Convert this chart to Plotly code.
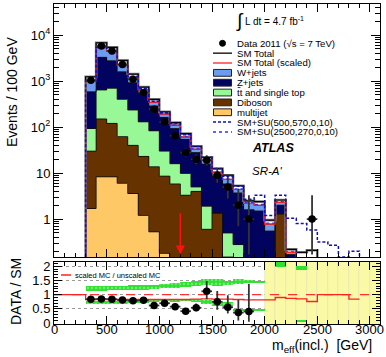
import numpy as np
import plotly.graph_objects as go

# ---------------- data ----------------
bin_lo = [300, 400, 500, 600, 700, 800, 900, 1000, 1100, 1200, 1300,
          1400, 1500, 1600, 1700, 1800, 1900, 2000, 2100, 2200, 2300, 2400]
bin_w = 100

multijet = [1.7, 8.3, 8.3, 6.0, 3.6, 1.2, 0.53, 0.18, 0, 0, 0,
            0, 0, 0, 0, 0, 0, 0, 0, 0, 0, 0]
diboson = [28.3, 141.7, 111.7, 56, 36.4, 21.8, 13.2, 8.4, 5.8, 3.3, 4.0,
           0.6, 1.35, 0.15, 0.1, 0, 0, 0, 1.3, 0, 0, 0]
ttbar = [63, 490, 575, 338, 195, 107, 69.3, 21.4, 10.2, 6.5, 1.0,
         1.3, 0, 0.35, 0.18, 0, 0, 0, 0, 0, 0, 0]
zjets = [492, 2630, 2065, 1190, 685, 410, 204, 132, 77, 44.2, 23,
         13.8, 7.15, 5.3, 3.42, 1.6, 1.5, 0.55, 0.7, 0.17, 0, 0]
wjets = [415, 2030, 1640, 610, 280, 100, 57, 30, 17, 7, 5,
         3.3, 2.0, 1.5, 0.7, 0.6, 0.5, 0.23, 0.3, 0.02, 0, 0]
sm_total = [1240, 6800, 5400, 2800, 1420, 740, 400, 215, 125, 72, 38,
            22, 12.5, 9.0, 5.3, 2.5, 2.4, 0.95, 2.6, 0.22, 0.19, 0.21]

su_lo = [300, 400, 500, 600, 700, 800, 900, 1000, 1100, 1200, 1300, 1400,
         1500, 1600, 1700, 1800, 1900, 2000, 2100, 2200, 2300, 2400, 2500,
         2600, 2700, 2800, 2900]
su_500_570 = [1030, 5450, 4550, 2280, 1250, 680, 365, 205, 120, 68, 38, 22,
              12.5, 8.5, 5.2, 2.7, 3.3, 1.2, 3.3, 1.05, 0.8, 0.58, 0.32,
              0.27, 0.15, 0.2, 0.14]
su_2500_270 = [1015, 5380, 4470, 2240, 1220, 652, 350, 196, 112, 62.5, 34, 19.5,
               10.8, 7.5, 4.55, 2.3, 2.1, 0.82, 2.4, 0.2, 0.0, 0.0, 0.0,
               0.0, 0.0, 0.0, 0.0]

data_x = [350, 450, 550, 650, 750, 850, 950, 1050, 1150, 1250, 1350, 1450,
          1550, 1650, 1750, 1850, 2450]
data_y = [1035, 5760, 4480, 2300, 1100, 565, 245, 130, 65, 28, 20, 19,
          9, 5, 2, 1, 1]
data_err_up = [33, 77, 68, 49, 34, 24, 16.6, 12.4, 9.1, 6.3, 5.5, 5.4,
               4.1, 3.4, 2.6, 2.3, 2.3]
data_err_dn = [32, 76, 67, 48, 33, 23, 15.6, 11.4, 8.0, 5.3, 4.4, 4.3,
               2.9, 2.2, 1.3, 0.83, 0.83]

ratio_x = [350, 450, 550, 650, 750, 850, 950, 1050, 1150, 1250, 1350, 1450,
           1550, 1650, 1750, 1850]
ratio_y = [0.84, 0.85, 0.84, 0.81, 0.79, 0.80, 0.62, 0.70, 0.58, 0.42, 0.54,
           1.12, 0.75, 0.56, 0.37, 0.41]
ratio_err_up = [0.03, 0.01, 0.02, 0.02, 0.03, 0.04, 0.05, 0.07, 0.08, 0.09,
                0.15, 0.36, 0.38, 0.42, 0.45, 0.97]
ratio_err_dn = [0.03, 0.01, 0.02, 0.02, 0.03, 0.04, 0.05, 0.06, 0.07, 0.08,
                0.12, 0.28, 0.28, 0.22, 0.28, 0.36]

band_lo_edges = [300, 400, 500, 600, 700, 800, 900, 1000, 1100, 1200, 1300,
                 1400, 1500, 1600, 1700, 1800, 1900]
band_up_lo = [1.13, 1.14, 1.15, 1.15, 1.17, 1.18, 1.19, 1.22, 1.24, 1.28, 1.30,
              1.33, 1.30, 1.36, 1.38, 1.40, 1.40]
band_up_hi = [1.30, 1.30, 1.31, 1.31, 1.33, 1.34, 1.35, 1.37, 1.40, 1.44, 1.50,
              1.57, 1.55, 1.50, 1.55, 1.52, 1.50]
band_dn_lo = [0.68, 0.68, 0.69, 0.69, 0.70, 0.71, 0.76, 0.77, 0.78, 0.78, 0.76,
              0.68, 0.62, 0.60, 0.42, 0.42, 0.42]
band_dn_hi = [0.78, 0.78, 0.79, 0.79, 0.80, 0.81, 0.83, 0.84, 0.85, 0.86, 0.85,
              0.80, 0.75, 0.74, 0.50, 0.50, 0.50]
band_extra_x = [2150, 2350, 2350]
band_extra_lo = [1.98, 1.88, 0.05]
band_extra_hi = [2.15, 2.00, 0.13]

scale_lo = [0, 100, 200, 300, 400, 500, 600, 700, 800, 900, 1000, 1100, 1200,
            1300, 1400, 1500, 1600, 1700, 1800, 1900, 2000, 2100, 2200, 2300,
            2400, 2500, 2600, 2700, 2800]
scale_ratio = [1.0, 1.0, 1.0, 0.83, 0.83, 0.83, 0.83, 0.83, 0.83, 0.83, 0.83,
               0.83, 0.83, 0.84, 0.85, 0.84, 0.84, 0.83, 0.82, 0.82, 0.82,
               0.90, 0.87, 0.85, 0.76, 1.0, 1.0, 1.0, 0.84]

yellow_lo = [2000, 2100, 2200, 2300, 2400, 2500, 2600, 2700, 2800, 2900, 3000]
x_tick_vals = [0, 500, 1000, 1500, 2000, 2500, 3000]
x_tick_text = ["0", "500", "1000", "1500", "2000", "2500", "3000"]
meff_cut = 1200

# ---------------- helpers ----------------
X_MAX = 3095
FLOOR = 1e-3
W, H = 386, 357
ML, MR, MT, MB = 54, 6, 4, 33
PW, PH = W - ML - MR, H - MT - MB


def px(xp):
    return (xp - ML) / PW


def py(yp):
    return (H - MB - yp) / PH


def step(lo, vals, floor=FLOOR, width=bin_w):
    xs = [lo[0]] + list(lo) + [lo[-1] + width, lo[-1] + width]
    v = [max(a, floor) for a in vals]
    ys = [floor] + v + [v[-1], floor]
    return xs, ys


centers = [b + bin_w / 2 for b in bin_lo]
cum = np.cumsum(np.array([multijet, diboson, ttbar, zjets, wjets]), axis=0)
cols = ["#fdc865", "#663300", "#98f898", "#01035f", "#6b9cf0"]

fig = go.Figure()

for i in range(4, -1, -1):
    fig.add_trace(go.Bar(x=centers, y=cum[i], width=bin_w, marker_color=cols[i],
                         marker_line_width=0, xaxis="x", yaxis="y",
                         showlegend=False))
for i in range(5):
    xs, ys = step(bin_lo, cum[i])
    fig.add_trace(go.Scatter(x=xs, y=ys, mode="lines", line_shape="hv",
                             line=dict(color="#111111", width=0.9),
                             xaxis="x", yaxis="y", showlegend=False))

xs, ys = step(bin_lo, sm_total)
fig.add_trace(go.Scatter(x=xs, y=ys, mode="lines", line_shape="hv",
                         line=dict(color="#888888", width=2.6),
                         xaxis="x", yaxis="y", showlegend=False))
fig.add_trace(go.Scatter(x=xs, y=ys, mode="lines", line_shape="hv",
                         line=dict(color="black", width=1.2),
                         xaxis="x", yaxis="y", showlegend=False))
xs, ys = step(bin_lo, cum[4])
fig.add_trace(go.Scatter(x=xs, y=ys, mode="lines", line_shape="hv",
                         line=dict(color="#ff2020", width=1.2),
                         xaxis="x", yaxis="y", showlegend=False))
xs, ys = step(su_lo, su_2500_270)
fig.add_trace(go.Scatter(x=xs, y=ys, mode="lines", line_shape="hv",
                         line=dict(color="#3030ff", width=1.2, dash="dot"),
                         xaxis="x", yaxis="y", showlegend=False))
xs, ys = step(su_lo, su_500_570)
fig.add_trace(go.Scatter(x=xs, y=ys, mode="lines", line_shape="hv",
                         line=dict(color="#1010b0", width=1.5, dash="3px,2px"),
                         xaxis="x", yaxis="y", showlegend=False))

fig.add_trace(go.Scatter(
    x=data_x, y=data_y, mode="markers",
    marker=dict(color="black", size=7.5),
    error_y=dict(type="data", array=data_err_up, arrayminus=data_err_dn,
                 color="#333333", thickness=1.8, width=0),
    error_x=dict(type="constant", value=bin_w / 2, color="#333333",
                 thickness=1.8, width=0),
    xaxis="x", yaxis="y", showlegend=False))

# ---------------- ratio panel ----------------
fig.add_trace(go.Bar(x=[b + bin_w / 2 for b in yellow_lo], y=[2.4] * len(yellow_lo),
                     base=[-0.1] * len(yellow_lo), width=bin_w,
                     marker=dict(color="#fafaa6", line=dict(color="#e2e2b4", width=0.6)),
                     xaxis="x2", yaxis="y2", showlegend=False))
band_c = [b + bin_w / 2 for b in band_lo_edges]
for lo, hi in ((band_up_lo, band_up_hi), (band_dn_lo, band_dn_hi)):
    fig.add_trace(go.Bar(x=band_c, y=[h - l for l, h in zip(lo, hi)], base=lo,
                         width=bin_w,
                         marker=dict(color="#2fe02f", line_width=0,
                                     pattern=dict(shape=".", fgcolor="#a8ffa8",
                                                  bgcolor="#2fe02f", size=4,
                                                  solidity=0.3)),
                         xaxis="x2", yaxis="y2", showlegend=False))
fig.add_trace(go.Bar(x=band_extra_x,
                     y=[h - l for l, h in zip(band_extra_lo, band_extra_hi)],
                     base=band_extra_lo, width=bin_w,
                     marker=dict(color="#2fe02f", line_width=0),
                     xaxis="x2", yaxis="y2", showlegend=False))

fig.add_trace(go.Scatter(x=[0, X_MAX], y=[1, 1], mode="lines",
                         line=dict(color="#ff3030", width=1.3, dash="dash"),
                         xaxis="x2", yaxis="y2", showlegend=False))
xs = list(scale_lo) + [scale_lo[-1] + bin_w]
ys = list(scale_ratio) + [scale_ratio[-1]]
fig.add_trace(go.Scatter(x=xs, y=ys, mode="lines", line_shape="hv",
                         line=dict(color="#ff2020", width=1.3),
                         xaxis="x2", yaxis="y2", showlegend=False))
fig.add_trace(go.Scatter(
    x=ratio_x, y=ratio_y, mode="markers",
    marker=dict(color="black", size=7.5),
    error_y=dict(type="data", array=ratio_err_up, arrayminus=ratio_err_dn,
                 color="#333333", thickness=1.8, width=0),
    error_x=dict(type="constant", value=bin_w / 2, color="#333333",
                 thickness=1.8, width=0),
    xaxis="x2", yaxis="y2", showlegend=False))

# ---------------- axes ----------------
font = "Liberation Sans, Arial, sans-serif"
minor_log = [m * 10 ** e for e in range(-1, 5) for m in range(2, 10)]
common_x = dict(range=[0, X_MAX], showline=True, linecolor="black", linewidth=1,
                mirror="allticks", ticks="inside", ticklen=8, tickcolor="black",
                tickmode="array", tickvals=x_tick_vals, showticklabels=False,
                showgrid=False, zeroline=False, automargin=False,
                minor=dict(dtick=100, tick0=0, ticks="inside", ticklen=4,
                           tickcolor="black"))
fig.update_layout(
    width=W, height=H, margin=dict(l=ML, r=MR, t=MT, b=MB, autoexpand=False),
    paper_bgcolor="white", plot_bgcolor="white", barmode="overlay",
    bargap=0, font=dict(family=font, size=13, color="black"),
    xaxis=dict(common_x, anchor="y", domain=[0, 1]),
    yaxis=dict(type="log", range=[-0.826, 4.674], domain=[0.209, 1],
               showline=True, linecolor="black", linewidth=1, mirror="allticks",
               ticks="inside", ticklen=9, tickcolor="black", showgrid=False,
               tickmode="array", tickvals=[1, 10, 100, 1000, 10000],
               ticktext=["1", "10", "10<sup>2</sup>", "10<sup>3</sup>", "10<sup>4</sup>"],
               minor=dict(tickmode="array", tickvals=minor_log, ticks="inside",
                          ticklen=5, tickcolor="black"),
               tickfont=dict(size=13), anchor="x", automargin=False),
    xaxis2=dict(common_x, anchor="y2", domain=[0, 1], matches="x"),
    yaxis2=dict(range=[-0.03, 2.15], domain=[0, 0.194], showline=True,
                linecolor="black", linewidth=1, mirror="allticks",
                ticks="inside", ticklen=8, tickcolor="black",
                tickmode="array", tickvals=[0, 0.5, 1, 1.5, 2],
                ticktext=["0", "0.5", "1", "1.5", "2"],
                showgrid=True, gridcolor="#9a9a9a", griddash="dot", gridwidth=1,
                zeroline=False, automargin=False,
                minor=dict(dtick=0.1, tick0=0, ticks="inside", ticklen=4,
                           tickcolor="black"),
                tickfont=dict(size=13), anchor="x2"),
)

# ---------------- annotations / legend ----------------
ann = []
shapes = []


def text(x, y, s, size=10, anchor="left", **kw):
    ann.append(dict(x=px(x), y=py(y), xref="paper", yref="paper", text=s,
                    showarrow=False, xanchor=anchor, yanchor="middle",
                    font=dict(size=size, family=font, color="black"), **kw))


for v, t in zip(x_tick_vals, x_tick_text):
    ann.append(dict(x=v, y=py(329.5), xref="x2", yref="paper", text=t,
                    showarrow=False, xanchor="center", yanchor="middle",
                    font=dict(size=13, family=font, color="black")))

text(12, 92, "Events / 100 GeV", size=14, anchor="center", textangle=-90)
text(16, 292, "DATA / SM", size=14, anchor="center", textangle=-90)
text(374, 346, "m<sub>eff</sub>(incl.)  [GeV]", size=14, anchor="right")
text(234, 21, "∫", size=19)
text(243, 21, "L dt = 4.7 fb<sup>-1</sup>", size=10)
text(250, 148, "<b><i>ATLAS</i></b>", size=12.5)
text(250, 171, "<i>SR-A'</i>", size=11.5)

leg = ["Data 2011 (√s = 7 TeV)", "SM Total", "SM Total (scaled)", "W+jets",
       "Z+jets", "tt and single top",
       "Diboson", "multijet", "SM+SU(500,570,0,10)", "SM+SU(2500,270,0,10)"]
y0, dy = 43.3, 9.85
for k, s in enumerate(leg):
    yc = y0 + k * dy
    text(235, yc, s, size=9.6)
    if k == 0:
        shapes.append(dict(type="circle", xref="paper", yref="paper",
                           x0=px(219.5), x1=px(225.5), y0=py(yc + 3), y1=py(yc - 3),
                           fillcolor="black", line=dict(color="black", width=1)))
    elif k in (1, 2):
        shapes.append(dict(type="line", xref="paper", yref="paper",
                           x0=px(213), x1=px(232), y0=py(yc), y1=py(yc),
                           line=dict(color="black" if k == 1 else "#ff2020", width=1.3)))
    elif k in (3, 4, 5, 6, 7):
        c = {3: cols[4], 4: cols[3], 5: cols[2], 6: cols[1], 7: cols[0]}[k]
        shapes.append(dict(type="rect", xref="paper", yref="paper",
                           x0=px(213.5), x1=px(231.5), y0=py(yc + 3.4), y1=py(yc - 3.4),
                           fillcolor=c, line=dict(color="#222222", width=1)))
        if k == 5:  # overline on the anti-top "t"
            shapes.append(dict(type="line", xref="paper", yref="paper",
                               x0=px(237.7), x1=px(240.4), y0=py(yc - 5.0),
                               y1=py(yc - 5.0), line=dict(color="black", width=0.8)))
    else:
        shapes.append(dict(type="line", xref="paper", yref="paper",
                           x0=px(213), x1=px(232), y0=py(yc), y1=py(yc),
                           line=dict(color="#1010b0" if k == 8 else "#3030ff",
                                     width=1.5, dash="3px,2px" if k == 8 else "dot")))

shapes.append(dict(type="line", xref="paper", yref="paper",
                   x0=px(61), x1=px(71), y0=py(275), y1=py(275),
                   line=dict(color="#ff2020", width=1.5)))
text(73, 275, "scaled MC / unscaled MC", size=7.5)

ann.append(dict(x=meff_cut, y=np.log10(0.17), xref="x", yref="y",
                ax=meff_cut, ay=np.log10(1.45), axref="x", ayref="y",
                showarrow=True, arrowhead=2, arrowsize=1.2, arrowwidth=1.5,
                arrowcolor="#ff1010", text=""))

fig.update_layout(annotations=ann, shapes=shapes)
fig.write_html("out.html", config={"displayModeBar": False},
               post_script="document.body.style.margin='0px';"
                           "document.body.style.padding='0px';")
